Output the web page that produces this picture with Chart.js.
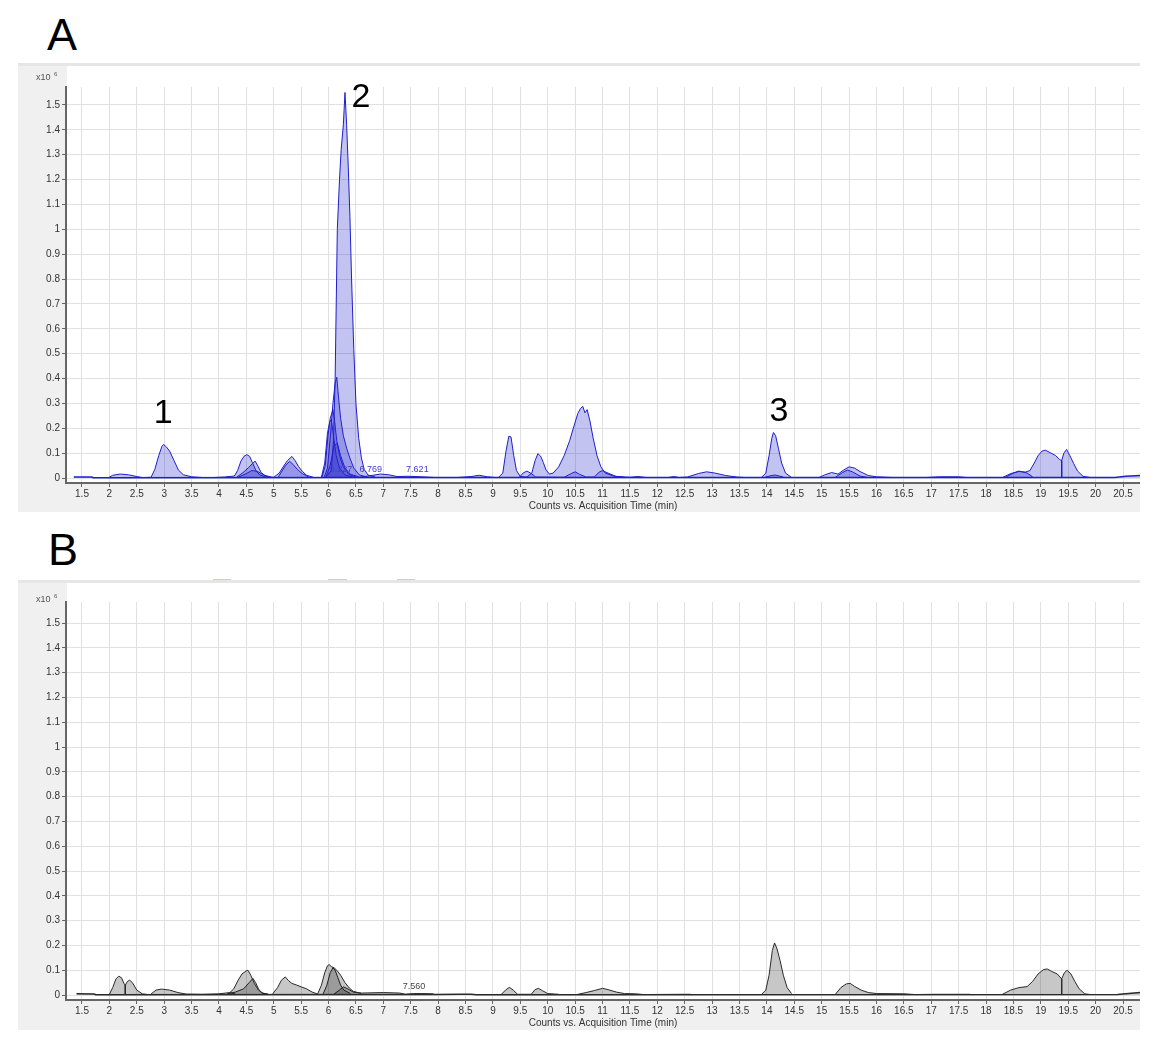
<!DOCTYPE html>
<html>
<head>
<meta charset="utf-8">
<script src="https://cdn.jsdelivr.net/npm/chart.js@4.4.0/dist/chart.umd.min.js"></script>
<style>
  body { margin: 0; background: #fff; width: 1158px; height: 1053px; position: relative; overflow: hidden; font-family: "Liberation Sans", Arial, sans-serif; }
  .letter { position: absolute; font-size: 45px; line-height: 1; color: #000; }
  .mark { position: absolute; height: 2px; background: #cfcfc8; top: 579px; }
  canvas { position: absolute; }
</style>
</head>
<body>
<div class="letter" style="left:47px;top:12px">A</div>
<div class="letter" style="left:48px;top:527px">B</div>
<div class="mark" style="left:213px;width:18px"></div>
<div class="mark" style="left:328px;width:19px"></div>
<div class="mark" style="left:397px;width:18px"></div>
<canvas id="chartA" width="1122" height="449" style="left:18px;top:63px"></canvas>
<canvas id="chartB" width="1122" height="450" style="left:18px;top:580px"></canvas>
<script>
// axis ticks (shared by both panels)
const xTicks = [1.5, 2, 2.5, 3, 3.5, 4, 4.5, 5, 5.5, 6, 6.5, 7, 7.5, 8, 8.5, 9, 9.5, 10, 10.5, 11,
  11.5, 12, 12.5, 13, 13.5, 14, 14.5, 15, 15.5, 16, 16.5, 17, 17.5, 18, 18.5, 19, 19.5, 20, 20.5];
const yTicks = [0, 0.1, 0.2, 0.3, 0.4, 0.5, 0.6, 0.7, 0.8, 0.9, 1, 1.1, 1.2, 1.3, 1.4, 1.5];
const xTitle = "Counts vs. Acquisition Time (min)";

// panel A traces: [time (min), counts x10^6]
const baseA = [[1.35, 0.004], [1.68, 0.004], [1.7, 0.001], [6.9, 0.002], [8.0, 0.002], [20.35, 0.002], [20.55, 0.007], [20.81, 0.01]];
const peak1A = [[1.98, 0.001], [2.06, 0.011], [2.2, 0.016], [2.35, 0.013], [2.5, 0.006], [2.6, 0.002], [2.76, 0.003], [2.83, 0.035],
  [2.9, 0.09], [2.96, 0.128], [2.99, 0.135], [3.04, 0.125], [3.1, 0.108], [3.18, 0.07], [3.26, 0.032], [3.35, 0.013], [3.5, 0.005], [3.7, 0.002]];
const peak45A = [[3.9, 0.002], [4.1, 0.004], [4.28, 0.008], [4.34, 0.03], [4.4, 0.068], [4.46, 0.088], [4.51, 0.094], [4.56, 0.087],
  [4.61, 0.062], [4.67, 0.032], [4.74, 0.013], [4.85, 0.004], [5.0, 0.002]];
const peak465A = [[4.32, 0.003], [4.44, 0.022], [4.54, 0.042], [4.61, 0.058], [4.66, 0.068], [4.71, 0.048], [4.77, 0.022], [4.86, 0.006], [4.95, 0.002]];
const inner46A = [[4.35, 0.003], [4.5, 0.018], [4.6, 0.03], [4.7, 0.027], [4.82, 0.012], [4.95, 0.004], [5.05, 0.002]];
const peak53A = [[5.0, 0.003], [5.1, 0.02], [5.18, 0.048], [5.25, 0.07], [5.33, 0.087], [5.39, 0.07], [5.45, 0.047], [5.52, 0.027], [5.6, 0.011], [5.72, 0.003]];
const inner528A = [[5.08, 0.003], [5.15, 0.028], [5.22, 0.052], [5.29, 0.067], [5.35, 0.055], [5.43, 0.035], [5.52, 0.018], [5.64, 0.004]];
const peak2A = [[5.95, 0.004], [6.05, 0.03], [6.09, 0.15], [6.12, 0.4], [6.14, 0.7], [6.16, 1.0], [6.2, 1.2], [6.23, 1.32], [6.27, 1.42],
  [6.3, 1.55], [6.33, 1.42], [6.36, 1.25], [6.39, 1.05], [6.42, 0.8], [6.46, 0.52], [6.5, 0.3], [6.55, 0.16], [6.6, 0.08], [6.65, 0.035],
  [6.72, 0.012], [6.85, 0.004]];
const peak615A = [[5.92, 0.004], [5.98, 0.04], [6.03, 0.16], [6.08, 0.3], [6.12, 0.38], [6.15, 0.405], [6.18, 0.33], [6.22, 0.24],
  [6.27, 0.17], [6.33, 0.12], [6.39, 0.08], [6.46, 0.04], [6.56, 0.013], [6.7, 0.004]];
const peak608A = [[5.88, 0.004], [5.94, 0.05], [5.99, 0.17], [6.03, 0.24], [6.08, 0.275], [6.11, 0.23], [6.15, 0.15], [6.2, 0.09],
  [6.27, 0.045], [6.37, 0.015], [6.5, 0.004]];
const peak603A = [[5.87, 0.004], [5.93, 0.06], [5.98, 0.18], [6.02, 0.225], [6.05, 0.235], [6.09, 0.17], [6.14, 0.09], [6.2, 0.04], [6.3, 0.012], [6.45, 0.003]];
const inner61A = [[5.95, 0.004], [6.03, 0.05], [6.1, 0.13], [6.16, 0.14], [6.22, 0.09], [6.3, 0.04], [6.4, 0.015], [6.55, 0.005]];
const tail7A = [[6.55, 0.003], [6.75, 0.009], [6.95, 0.016], [7.1, 0.013], [7.25, 0.006], [7.45, 0.007], [7.7, 0.005], [7.95, 0.002],
  [8.35, 0.002], [8.6, 0.006], [8.75, 0.011], [8.9, 0.005], [9.05, 0.002]];
const peak106A = [[9.1, 0.002], [9.18, 0.02], [9.24, 0.11], [9.29, 0.168], [9.33, 0.165], [9.38, 0.09], [9.43, 0.03], [9.5, 0.006],
  [9.62, 0.004], [9.71, 0.02], [9.77, 0.07], [9.82, 0.098], [9.87, 0.088], [9.92, 0.062], [9.97, 0.032], [10.03, 0.016], [10.1, 0.02],
  [10.2, 0.045], [10.3, 0.09], [10.4, 0.15], [10.48, 0.21], [10.55, 0.26], [10.6, 0.28], [10.64, 0.288], [10.68, 0.262], [10.72, 0.275],
  [10.77, 0.23], [10.83, 0.16], [10.9, 0.09], [10.97, 0.045], [11.05, 0.02], [11.2, 0.008], [11.4, 0.003]];
const minor10A = [[9.48, 0.002], [9.55, 0.02], [9.62, 0.028], [9.7, 0.018], [9.78, 0.004], [10.3, 0.003], [10.43, 0.018], [10.5, 0.025],
  [10.58, 0.015], [10.7, 0.004], [10.85, 0.004], [10.94, 0.024], [11.0, 0.03], [11.1, 0.02], [11.25, 0.006], [11.5, 0.003], [11.65, 0.006], [11.8, 0.002]];
const hump13A = [[12.2, 0.002], [12.3, 0.006], [12.4, 0.002], [12.55, 0.004], [12.75, 0.018], [12.9, 0.025], [13.05, 0.02], [13.25, 0.01], [13.45, 0.004], [13.6, 0.002]];
const peak3A = [[13.9, 0.002], [13.98, 0.02], [14.04, 0.09], [14.09, 0.16], [14.12, 0.183], [14.16, 0.17], [14.21, 0.12], [14.27, 0.06], [14.34, 0.02], [14.44, 0.004]];
const minor14A = [[13.95, 0.002], [14.08, 0.01], [14.15, 0.012], [14.3, 0.004]];
const peak155A = [[14.95, 0.002], [15.05, 0.012], [15.18, 0.022], [15.3, 0.016], [15.4, 0.032], [15.5, 0.045], [15.6, 0.04], [15.7, 0.026],
  [15.85, 0.01], [16.0, 0.005], [16.3, 0.002]];
const inner155A = [[15.25, 0.003], [15.38, 0.022], [15.47, 0.032], [15.56, 0.025], [15.7, 0.008], [15.85, 0.002]];
const minor17A = [[16.9, 0.002], [17.15, 0.005], [17.5, 0.005], [17.65, 0.002]];
const minor186A = [[18.35, 0.002], [18.5, 0.02], [18.6, 0.028], [18.75, 0.02], [18.85, 0.005]];
const peak19A = [[18.3, 0.002], [18.45, 0.018], [18.6, 0.026], [18.72, 0.024], [18.8, 0.03], [18.88, 0.06], [18.95, 0.09], [19.02, 0.108],
  [19.08, 0.112], [19.17, 0.102], [19.27, 0.09], [19.34, 0.075], [19.38, 0.07], [19.38, 0]];
const peak195A = [[19.38, 0], [19.38, 0.07], [19.42, 0.1], [19.47, 0.115], [19.53, 0.09], [19.6, 0.058], [19.67, 0.028], [19.77, 0.007], [19.9, 0.002]];

// panel B traces
const baseB = [[1.4, 0.005], [1.72, 0.004], [1.75, 0.001], [7.95, 0.002], [8.4, 0.003], [8.6, 0.003], [8.7, 0.001], [20.4, 0.002], [20.6, 0.006], [20.81, 0.01]];
const peak22B = [[2.0, 0.003], [2.06, 0.03], [2.12, 0.065], [2.17, 0.076], [2.22, 0.07], [2.27, 0.045], [2.29, 0.04], [2.29, 0]];
const peak237B = [[2.29, 0], [2.29, 0.04], [2.33, 0.055], [2.37, 0.06], [2.42, 0.05], [2.5, 0.02], [2.6, 0.005], [2.7, 0.002]];
const hump3B = [[2.75, 0.002], [2.85, 0.02], [2.95, 0.024], [3.1, 0.02], [3.25, 0.01], [3.4, 0.004], [3.7, 0.003], [4.0, 0.005], [4.2, 0.01], [4.3, 0.004]];
const peak45B = [[4.2, 0.01], [4.27, 0.025], [4.35, 0.06], [4.42, 0.085], [4.5, 0.098], [4.53, 0.1], [4.58, 0.08], [4.65, 0.045], [4.72, 0.02], [4.8, 0.008], [4.9, 0.003]];
const peak462B = [[4.15, 0.005], [4.3, 0.012], [4.45, 0.025], [4.55, 0.05], [4.62, 0.067], [4.67, 0.05], [4.72, 0.025], [4.78, 0.008], [4.9, 0.003]];
const peak52B = [[4.98, 0.005], [5.07, 0.03], [5.14, 0.06], [5.21, 0.073], [5.27, 0.058], [5.33, 0.047], [5.42, 0.04], [5.5, 0.033], [5.6, 0.025], [5.7, 0.012], [5.8, 0.004]];
const peak60B = [[5.8, 0.004], [5.87, 0.04], [5.93, 0.09], [5.98, 0.118], [6.01, 0.123], [6.05, 0.115], [6.1, 0.11], [6.15, 0.1], [6.22, 0.08],
  [6.3, 0.05], [6.38, 0.028], [6.45, 0.015], [6.6, 0.006]];
const peak609B = [[5.9, 0.004], [5.97, 0.04], [6.03, 0.09], [6.08, 0.11], [6.12, 0.1], [6.17, 0.07], [6.22, 0.04], [6.28, 0.02], [6.4, 0.006]];
const peak628B = [[6.1, 0.004], [6.2, 0.02], [6.27, 0.033], [6.35, 0.025], [6.45, 0.012], [6.6, 0.008], [7.0, 0.01], [7.3, 0.008], [7.4, 0.003],
  [7.55, 0.006], [7.7, 0.006], [7.9, 0.005], [7.95, 0.001]];
const peak98B = [[9.15, 0.002], [9.23, 0.02], [9.3, 0.031], [9.37, 0.02], [9.45, 0.003], [9.7, 0.003], [9.77, 0.022], [9.83, 0.027], [9.9, 0.018], [10.0, 0.006], [10.2, 0.003]];
const hump11B = [[10.55, 0.003], [10.7, 0.01], [10.85, 0.018], [11.0, 0.027], [11.1, 0.022], [11.25, 0.012], [11.4, 0.006], [11.6, 0.005], [11.75, 0.002],
  [12.45, 0.003], [12.6, 0.003], [12.65, 0.001]];
const peak141B = [[13.9, 0.002], [13.98, 0.02], [14.04, 0.08], [14.1, 0.18], [14.14, 0.21], [14.18, 0.19], [14.24, 0.14], [14.3, 0.08], [14.37, 0.03], [14.45, 0.006]];
const peak155B = [[15.25, 0.003], [15.35, 0.03], [15.45, 0.045], [15.52, 0.047], [15.6, 0.035], [15.72, 0.02], [15.85, 0.01], [16.0, 0.006], [16.5, 0.005],
  [16.7, 0.002], [17.1, 0.003], [17.7, 0.003], [17.75, 0.001]];
const peak19B = [[18.3, 0.003], [18.45, 0.02], [18.6, 0.03], [18.75, 0.034], [18.85, 0.055], [18.95, 0.085], [19.05, 0.103], [19.12, 0.105],
  [19.2, 0.095], [19.3, 0.085], [19.38, 0.065], [19.38, 0]];
const peak195B = [[19.38, 0], [19.38, 0.065], [19.43, 0.09], [19.48, 0.1], [19.55, 0.085], [19.62, 0.055], [19.7, 0.025], [19.8, 0.005], [19.9, 0.002]];

// retention-time labels and peak numbers
const rtLabelsA = [6.227, 6.769, 7.621];
const rtLabelsB = [7.560];
const peakNumbersA = [
  { text: "1", t: 2.98, v: 0.26 },
  { text: "2", t: 6.59, v: 1.53 },
  { text: "3", t: 14.22, v: 0.265 },
];

const tracesA = [baseA, peak1A, peak45A, peak465A, inner46A, peak53A, inner528A, peak2A, peak615A, peak608A, peak603A,
  inner61A, tail7A, peak106A, minor10A, hump13A, peak3A, minor14A, peak155A, inner155A, minor17A, minor186A, peak19A, peak195A];
const tracesB = [baseB, peak22B, peak237B, hump3B, peak45B, peak462B, peak52B, peak60B, peak609B, peak628B, peak98B, hump11B,
  peak141B, peak155B, peak19B, peak195B];

// background, title, x10^6 and labels
const chromPlugin = {
  id: "chrom",
  beforeDraw(chart) {
    const { ctx, chartArea: a, width, height } = chart;
    ctx.save();
    ctx.fillStyle = "#f0f0f0";
    ctx.fillRect(0, 0, width, height);
    ctx.fillStyle = "#e6e6e6";
    ctx.fillRect(0, 0, width, 3);
    ctx.fillStyle = "#ffffff";
    ctx.fillRect(a.left + 1, 3, width - a.left - 1, a.bottom - 3);
    ctx.restore();
  },
  afterDraw(chart, args, opts) {
    const { ctx, chartArea: a } = chart;
    const xs = chart.scales.x, ys = chart.scales.y;
    ctx.save();
    ctx.fillStyle = "#333";
    ctx.font = '10px "Liberation Sans"';
    ctx.textAlign = "center";
    ctx.textBaseline = "alphabetic";
    ctx.fillText(xTitle, (a.left + a.right) / 2, opts.titleY);

    // exponent label
    ctx.textAlign = "left";
    ctx.fillStyle = "#555";
    ctx.font = '9px "Liberation Sans"';
    ctx.fillText("x10", 18, opts.expY);
    ctx.font = '6px "Liberation Sans"';
    ctx.fillText("6", 36, opts.expY - 4);

    ctx.font = '9px "Liberation Sans"';
    ctx.textAlign = "center";
    ctx.fillStyle = opts.rtColor;
    opts.rt.forEach((t) => {
      ctx.fillText(t.toFixed(3), xs.getPixelForValue(t), ys.getPixelForValue(0.024));
    });

    ctx.fillStyle = "#000";
    ctx.font = '34px "Liberation Sans"';
    ctx.textBaseline = "middle";
    opts.peaks.forEach((p) => {
      ctx.fillText(p.text, xs.getPixelForValue(p.t), ys.getPixelForValue(p.v));
    });
    ctx.restore();
  },
};

function buildChart(id, traces, lineColor, fillColor, cfg) {
  return new Chart(document.getElementById(id), {
    type: "line",
    data: {
      datasets: traces.map((t, i) => ({
        data: t.map((p) => ({ x: p[0], y: p[1] })),
        borderColor: lineColor,
        backgroundColor: fillColor,
        borderWidth: i === 0 ? 1.6 : 1,
        pointRadius: 0,
        fill: "origin",
        tension: 0,
      })),
    },
    options: {
      responsive: false,
      animation: false,
      events: [],
      layout: { padding: { top: cfg.top, left: 0, right: 0, bottom: 0 } },
      scales: {
        x: {
          type: "linear",
          min: 1.208,
          max: 20.81,
          afterBuildTicks: (s) => { s.ticks = xTicks.map((v) => ({ value: v })); },
          afterFit: (s) => { s.height = cfg.xHeight; },
          grid: { color: "#e0e0e0", tickColor: "#666", tickLength: 4 },
          border: { color: "#666", width: 2 },
          ticks: {
            autoSkip: false, maxRotation: 0, padding: 1, color: "#333",
            font: { family: "Liberation Sans", size: 10 },
            callback: (v) => String(v),
          },
        },
        y: {
          min: -0.02,
          max: cfg.yMax,
          afterBuildTicks: (s) => { s.ticks = yTicks.map((v) => ({ value: v })); },
          afterFit: (s) => { s.width = 48; },
          grid: { color: "#e0e0e0", tickColor: "#666", tickLength: 4 },
          border: { color: "#666", width: 2 },
          ticks: {
            padding: 2, color: "#333",
            font: { family: "Liberation Sans", size: 10 },
            callback: (v) => String(v),
          },
        },
      },
      plugins: {
        legend: { display: false },
        tooltip: { enabled: false },
        chrom: { titleY: 446, expY: cfg.expY, rt: cfg.rt, rtColor: cfg.rtColor, peaks: cfg.peaks },
      },
    },
    plugins: [chromPlugin],
  });
}

buildChart("chartA", tracesA, "#1f1fcc", "rgba(40,40,205,0.28)",
  { top: 24, xHeight: 29, yMax: 1.572, expY: 17, rt: rtLabelsA, rtColor: "#4040cc", peaks: peakNumbersA });
buildChart("chartB", tracesB, "#2a2a2a", "rgba(0,0,0,0.22)",
  { top: 22, xHeight: 30, yMax: 1.585, expY: 22, rt: rtLabelsB, rtColor: "#444", peaks: [] });
</script>
</body>
</html>
